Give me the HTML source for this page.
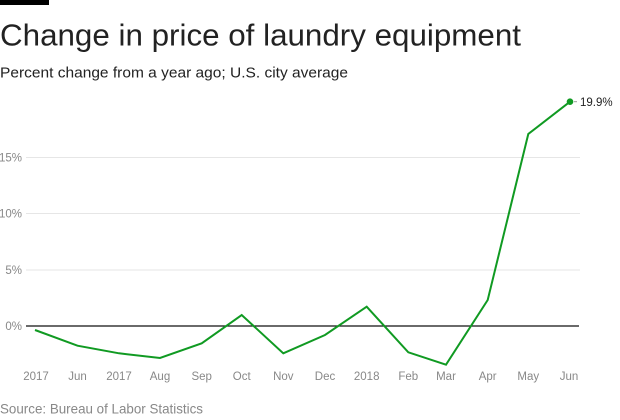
<!DOCTYPE html>
<html><head><meta charset="utf-8"><style>
html,body{margin:0;padding:0;background:#fff;}
svg{display:block;font-family:"Liberation Sans",sans-serif;}
</style></head><body>
<svg width="620" height="420" viewBox="0 0 620 420" xmlns="http://www.w3.org/2000/svg">
<rect x="0" y="0" width="49" height="5" fill="#000"/>
<text x="0" y="45.5" font-size="31" fill="#222" textLength="521" lengthAdjust="spacingAndGlyphs">Change in price of laundry equipment</text>
<text x="0" y="77.3" font-size="15" fill="#222" textLength="348" lengthAdjust="spacingAndGlyphs">Percent change from a year ago; U.S. city average</text>
<g stroke="#e6e6e6" stroke-width="1">
<line x1="26" y1="157.5" x2="580" y2="157.5"/>
<line x1="26" y1="213.5" x2="580" y2="213.5"/>
<line x1="26" y1="270" x2="580" y2="270"/>
</g>
<line x1="26" y1="326" x2="579" y2="326" stroke="#111" stroke-width="1.3"/>
<g font-size="11.5" fill="#888" text-anchor="end">
<text x="22" y="161.5">15%</text>
<text x="22" y="217.5">10%</text>
<text x="22" y="274">5%</text>
<text x="22" y="330">0%</text>
</g>
<polyline fill="none" stroke="#109a22" stroke-width="2" stroke-linejoin="miter" points="35,330 77.5,345.7 119,353.3 160,358 201.7,343.3 241.7,315 283.3,353.3 325,335 366.7,306.7 408.3,352.3 446,364.7 487.7,300 528.3,134 570,101.7"/>
<circle cx="570" cy="101.7" r="3.3" fill="#109a22"/>
<line x1="574" y1="101.7" x2="577" y2="101.7" stroke="#999" stroke-width="1"/>
<text x="580" y="106" font-size="11.5" fill="#222">19.9%</text>
<g font-size="11.5" fill="#888" text-anchor="middle">
<text x="36" y="380">2017</text>
<text x="77.5" y="380">Jun</text>
<text x="119" y="380">2017</text>
<text x="160" y="380">Aug</text>
<text x="201.7" y="380">Sep</text>
<text x="241.7" y="380">Oct</text>
<text x="283.3" y="380">Nov</text>
<text x="325" y="380">Dec</text>
<text x="366.7" y="380">2018</text>
<text x="408.3" y="380">Feb</text>
<text x="446" y="380">Mar</text>
<text x="487.7" y="380">Apr</text>
<text x="528.3" y="380">May</text>
<text x="569" y="380">Jun</text>
</g>
<text x="0" y="413.3" font-size="14" fill="#888" textLength="203" lengthAdjust="spacingAndGlyphs">Source: Bureau of Labor Statistics</text>
</svg>
</body></html>
